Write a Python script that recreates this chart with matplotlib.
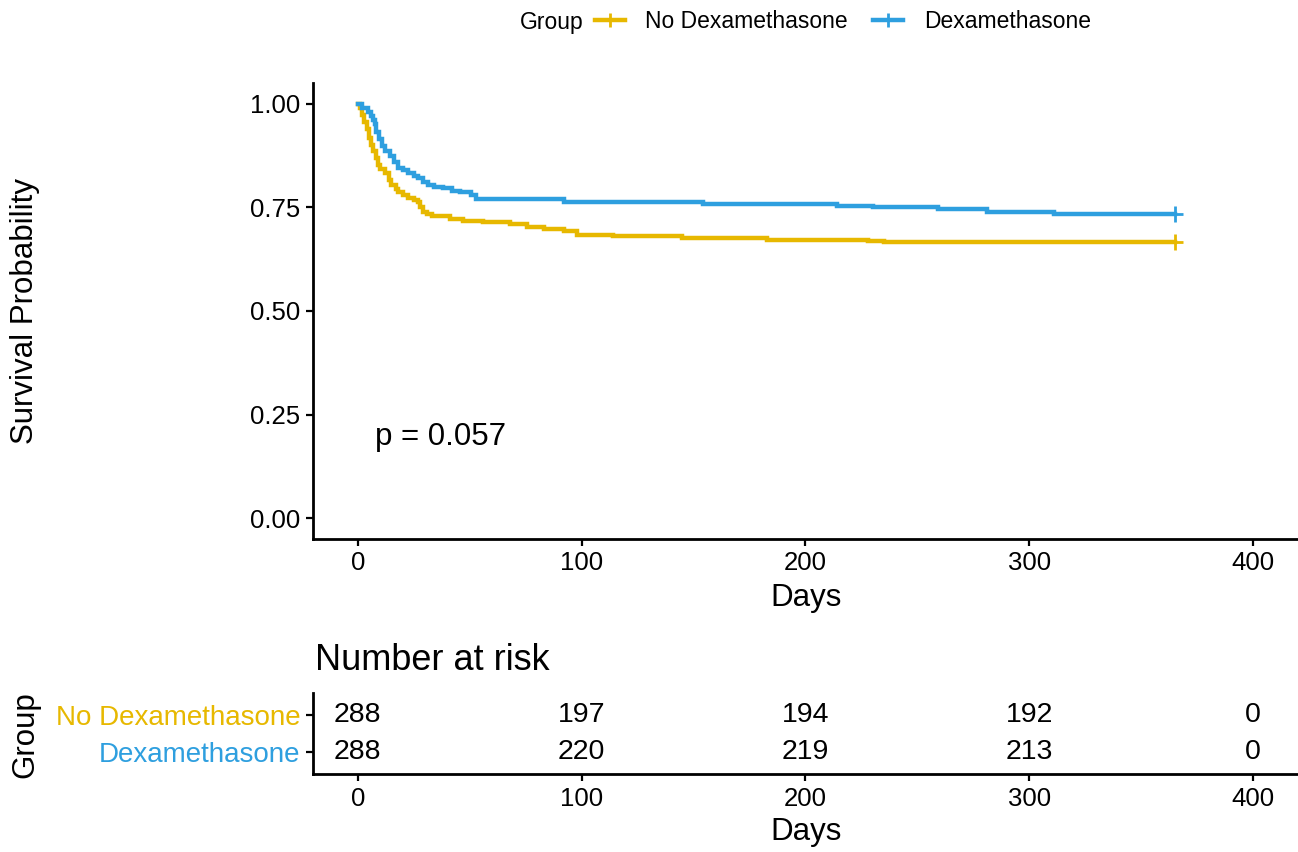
import matplotlib
matplotlib.use("Agg")
import matplotlib.pyplot as plt
from matplotlib.lines import Line2D

plt.rcParams['font.family'] = ['Liberation Sans', 'DejaVu Sans']

# --- data ---
groups = ["No Dexamethasone", "Dexamethasone"]
colors = ["#E7B800", "#2E9FDF"]

days_no_dex = [0, 1, 2, 3, 4, 5, 6, 7, 8, 9, 10, 12, 14, 15, 17, 18, 20, 22.5, 25, 27,
               28, 29, 31, 33, 41, 47, 56, 68, 75.5, 83, 92, 98, 114, 145, 183, 228, 235, 365]
surv_no_dex = [1.0, 0.99, 0.972, 0.957, 0.94, 0.917, 0.90, 0.885, 0.868, 0.853, 0.843, 0.833,
               0.815, 0.804, 0.795, 0.787, 0.78, 0.772, 0.768, 0.763, 0.750, 0.739, 0.733, 0.728,
               0.722, 0.717, 0.714, 0.711, 0.703, 0.697, 0.692, 0.684, 0.680, 0.675, 0.671,
               0.669, 0.667, 0.667]

days_dex = [0, 2, 4.6, 6, 6.8, 7.5, 8.3, 9.5, 10.6, 12, 14.3, 16, 18, 20, 22.5, 25, 27, 29,
            31.4, 34, 38, 42, 45.6, 50.8, 53, 92, 154, 214, 230, 259, 281, 299, 311, 365]
surv_dex = [1.0, 0.99, 0.981, 0.97, 0.961, 0.95, 0.933, 0.915, 0.897, 0.885, 0.873, 0.86,
            0.845, 0.84, 0.833, 0.826, 0.821, 0.812, 0.803, 0.799, 0.796, 0.79, 0.786, 0.78,
            0.770, 0.762, 0.758, 0.754, 0.750, 0.746, 0.740, 0.738, 0.735, 0.735]

risk_times = [0, 100, 200, 300, 400]
risk_no_dex = [288, 197, 194, 192, 0]
risk_dex = [288, 220, 219, 213, 0]

p_label = "p = 0.057"

W, H = 1298, 852
fig = plt.figure(figsize=(W / 100, H / 100), dpi=100)

# --- survival curves ---
ax = fig.add_axes([313 / W, 1 - 539 / H, (W - 313) / W, (539 - 83) / H])
curves = [(days_no_dex, surv_no_dex), (days_dex, surv_dex)]
for (t, s), c in zip(curves, colors):
    ax.step(t, s, where='post', color=c, lw=3.2, solid_joinstyle='miter')
    ax.plot(t[-1], s[-1], marker='+', color=c, markersize=11, mew=2)

ax.set_xlim(-20, 420)
ax.set_ylim(-0.05, 1.05)
ax.set_xticks([0, 100, 200, 300, 400])
ax.set_yticks([0, 0.25, 0.5, 0.75, 1.0])
ax.set_yticklabels(["0.00", "0.25", "0.50", "0.75", "1.00"])
for side in ['top', 'right']:
    ax.spines[side].set_visible(False)
for side in ['left', 'bottom']:
    ax.spines[side].set_linewidth(2)
ax.tick_params(labelsize=18.5, length=5, width=1.6, pad=4, colors='black')
ax.text(7.6, 0.196, p_label, fontsize=22.5, va='center', ha='left')

fig.text(806 / W, 1 - 598 / H, "Days", fontsize=22.5, ha='center', va='center')
fig.text(25 / W, 1 - 311 / H, "Survival Probability", fontsize=22.5,
         rotation=90, ha='center', va='center')

# --- legend on top ---
fig.text(520 / W, 1 - 22 / H, "Group", fontsize=16.5, ha='left', va='center')
handles = [Line2D([], [], color=c, lw=3.2, marker='+', markersize=10, mew=2) for c in colors]
fig.legend(handles, groups, loc='center left', bbox_to_anchor=(595 / W, 1 - 22 / H),
           ncol=2, frameon=False, fontsize=16.5, borderpad=0, borderaxespad=0,
           handlelength=1.3, handletextpad=0.9, columnspacing=1.1)

# --- number at risk table ---
rx = fig.add_axes([313 / W, 1 - 774 / H, (W - 313) / W, (774 - 693) / H])
rx.set_xlim(-20, 420)
rx.set_ylim(0.4, 2.6)
for t, n in zip(risk_times, risk_no_dex):
    rx.text(t, 2, str(n), fontsize=20.5, ha='center', va='center')
for t, n in zip(risk_times, risk_dex):
    rx.text(t, 1, str(n), fontsize=20.5, ha='center', va='center')
rx.set_xticks([0, 100, 200, 300, 400])
rx.set_yticks([2, 1])
rx.set_yticklabels(groups)
for lbl, c in zip(rx.get_yticklabels(), colors):
    lbl.set_color(c)
for side in ['top', 'right']:
    rx.spines[side].set_visible(False)
for side in ['left', 'bottom']:
    rx.spines[side].set_linewidth(2)
rx.tick_params(axis='x', labelsize=18.5, length=5, width=1.6, pad=4)
rx.tick_params(axis='y', labelsize=20, length=5, width=1.6, pad=4)

fig.text(315 / W, 1 - 660 / H, "Number at risk", fontsize=26, ha='left', va='center')
fig.text(806 / W, 1 - 832 / H, "Days", fontsize=22.5, ha='center', va='center')
fig.text(25 / W, 1 - 735 / H, "Group", fontsize=22.5, rotation=90, ha='center', va='center')

fig.savefig("out.png", dpi=100)
